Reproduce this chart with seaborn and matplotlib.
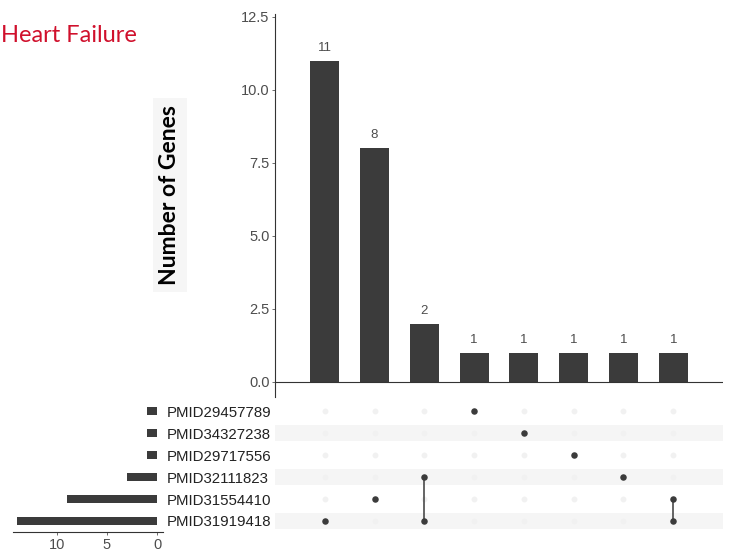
import matplotlib
matplotlib.use("Agg")
import matplotlib.pyplot as plt
import seaborn as sns
import pandas as pd

# Sets, listed from the bottom row of the matrix to the top row
set_names = ["PMID31919418", "PMID31554410", "PMID32111823",
             "PMID29717556", "PMID34327238", "PMID29457789"]
set_sizes = [14, 9, 3, 1, 1, 1]

# Intersections, in the order they are drawn left to right
intersection_counts = [11, 8, 2, 1, 1, 1, 1, 1]
intersection_members = [
    ["PMID31919418"],
    ["PMID31554410"],
    ["PMID32111823", "PMID31919418"],
    ["PMID29457789"],
    ["PMID34327238"],
    ["PMID29717556"],
    ["PMID32111823"],
    ["PMID31554410", "PMID31919418"],
]

title_text = "Heart Failure"
ylabel_text = "Number of Genes"
count_ticks = [0, 2.5, 5, 7.5, 10, 12.5]
set_ticks = [10, 5, 0]

BAR = "#3b3b3b"
GREY_TXT = "#4d4d4d"

sns.set_style("white")
plt.rcParams["font.family"] = ["Liberation Sans", "DejaVu Sans"]

W, H = 730, 556
fig = plt.figure(figsize=(W / 100, H / 100), dpi=100)


def box(left, top, right, bottom):
    return [left / W, 1 - bottom / H, (right - left) / W, (bottom - top) / H]


ax_bar = fig.add_axes(box(275, 14, 723, 396.6))
ax_mat = fig.add_axes(box(275, 400, 723, 532))
ax_set = fig.add_axes(box(13, 400, 163, 532))

# ---- intersection size bars ----
n_cols = len(intersection_counts)
df_int = pd.DataFrame({"col": list(range(n_cols)), "count": intersection_counts})
sns.barplot(data=df_int, x="col", y="count", color=BAR, saturation=1,
            width=0.58, linewidth=0, ax=ax_bar)
ax_bar.bar_label(ax_bar.containers[0], labels=[str(v) for v in intersection_counts],
                 padding=5, fontsize=9.5, color=GREY_TXT)
ax_bar.set_xlim(-1, n_cols)
ax_bar.set_ylim(-0.5, 12.6)
ax_bar.set_yticks(count_ticks)
ax_bar.set_yticklabels([f"{t:.1f}" for t in count_ticks])
ax_bar.set_xticks([])
ax_bar.set_xlabel("")
ax_bar.set_ylabel("")
ax_bar.axhline(0, color="#333333", lw=0.8)
for side in ["top", "right", "bottom"]:
    ax_bar.spines[side].set_visible(False)
ax_bar.spines["left"].set_color("#333333")
ax_bar.spines["left"].set_linewidth(0.8)
ax_bar.tick_params(axis="y", left=True, length=2, width=0.6, color="#555555",
                   labelsize=10.5, labelcolor=GREY_TXT, pad=2)

# ---- membership matrix ----
row_of = {name: i for i, name in enumerate(set_names)}
records = []
for c, members in enumerate(intersection_members):
    for name in set_names:
        records.append({"col": c, "row": row_of[name], "member": name in members})
df_mat = pd.DataFrame(records)

for r in range(0, len(set_names), 2):
    ax_mat.axhspan(r - 0.35, r + 0.35, color="#f5f5f5", lw=0, zorder=0)

sns.scatterplot(data=df_mat[~df_mat["member"]], x="col", y="row", color="#f1f1f1",
                s=18, linewidth=0, ax=ax_mat, zorder=1)
for c, members in enumerate(intersection_members):
    rows = [row_of[m] for m in members]
    if len(rows) > 1:
        ax_mat.vlines(c, min(rows), max(rows), color=BAR, lw=1.1, zorder=2)
sns.scatterplot(data=df_mat[df_mat["member"]], x="col", y="row", color=BAR,
                s=22, linewidth=0, ax=ax_mat, zorder=3)
ax_mat.set_xlim(-1, n_cols)
ax_mat.set_ylim(-0.5, len(set_names) - 0.5)
ax_mat.axis("off")

# ---- set size bars ----
df_set = pd.DataFrame({"row": list(range(len(set_names))), "size": set_sizes})
sns.barplot(data=df_set, x="size", y="row", orient="h", native_scale=True,
            color=BAR, saturation=1, width=0.4, linewidth=0, ax=ax_set)
ax_set.set_xlim(14.4, -0.6)
ax_set.set_ylim(-0.5, len(set_names) - 0.5)
ax_set.set_xticks(set_ticks)
ax_set.set_xticklabels([str(t) for t in set_ticks])
ax_set.yaxis.tick_right()
ax_set.set_yticks(list(range(len(set_names))))
ax_set.set_yticklabels(set_names)
ax_set.tick_params(axis="y", length=0, pad=3, labelsize=10.8, labelcolor="#222222")
ax_set.tick_params(axis="x", bottom=True, length=2, width=0.6, color="#555555",
                   labelsize=10.5, labelcolor=GREY_TXT, pad=2)
ax_set.set_xlabel("")
ax_set.set_ylabel("")
for side in ["top", "right", "left"]:
    ax_set.spines[side].set_visible(False)
ax_set.spines["bottom"].set_color("#333333")
ax_set.spines["bottom"].set_linewidth(0.8)

# ---- titles ----
fig.text(170 / W, 1 - 195 / H, ylabel_text, rotation=90, ha="center", va="center",
         fontsize=16.5, fontweight="bold", family=["Lato", "DejaVu Sans"], color="black",
         bbox=dict(facecolor="#f6f6f6", edgecolor="none", pad=5))
fig.text(1 / W, 1 - 35 / H, title_text, ha="left", va="center", fontsize=17,
         family=["Lato", "DejaVu Sans"], color="#d0102c")

fig.savefig("out.png", dpi=100)
